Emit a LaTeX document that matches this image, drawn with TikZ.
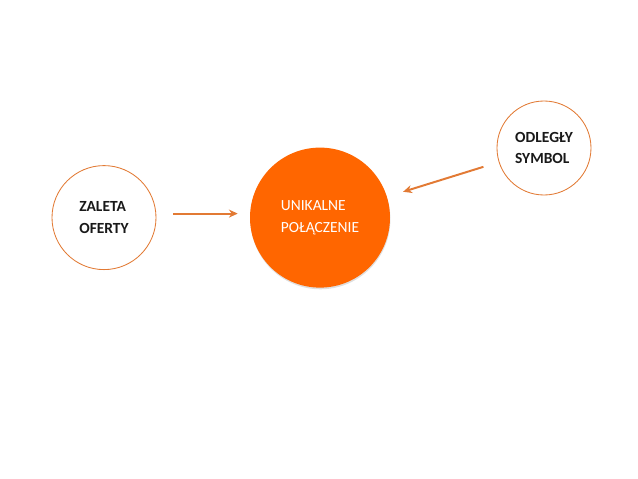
\documentclass[tikz,border=0pt]{standalone}
\usepackage{fontspec}
\setmainfont{Carlito}
\usepackage{xcolor}
\usetikzlibrary{arrows.meta, shadows}
\definecolor{orangefill}{RGB}{255, 102, 0}
\definecolor{orangeline}{RGB}{226, 122, 52}
\definecolor{textdark}{RGB}{25, 25, 25}

\begin{document}
\begin{tikzpicture}[
  every node/.style = {font=\fontsize{11}{15.6}\selectfont},
  ring/.style = {
    circle, draw=orangeline, line width=0.6pt, fill=white,
    minimum size=#1, align=left, inner sep=0pt,
    font=\fontsize{11}{15.6}\selectfont\bfseries, text=textdark
  },
  hub/.style = {
    circle, fill=orangefill, minimum size=3.5cm, align=left, inner sep=0pt,
    text=white, drop shadow={shadow xshift=0.3pt, shadow yshift=-1.2pt, opacity=0.25}
  },
  arr/.style = {-{Stealth[length=2.2mm, width=2mm]}, line width=1.4pt, draw=orangeline}
]
\useasboundingbox (0,0) rectangle (15.95,-11.975);

% ---- circles ----
\node[ring=2.6cm]  (offer)  at (2.6,-5.44) {ZALETA\\OFERTY};
\node[hub]         (link)   at (8.0,-5.44) {UNIKALNE\\POŁĄCZENIE};
\node[ring=2.35cm] (symbol) at (13.6,-3.7) {ODLEGŁY\\SYMBOL};

% ---- arrows ----
\draw[arr, shorten <=0.42cm, shorten >=0.3cm] ([yshift=0.1cm]offer.east) -- ([yshift=0.1cm]link.west);
\draw[arr, shorten <=0.4cm, shorten >=0.42cm] (symbol) -- (link);

\end{tikzpicture}
\end{document}
